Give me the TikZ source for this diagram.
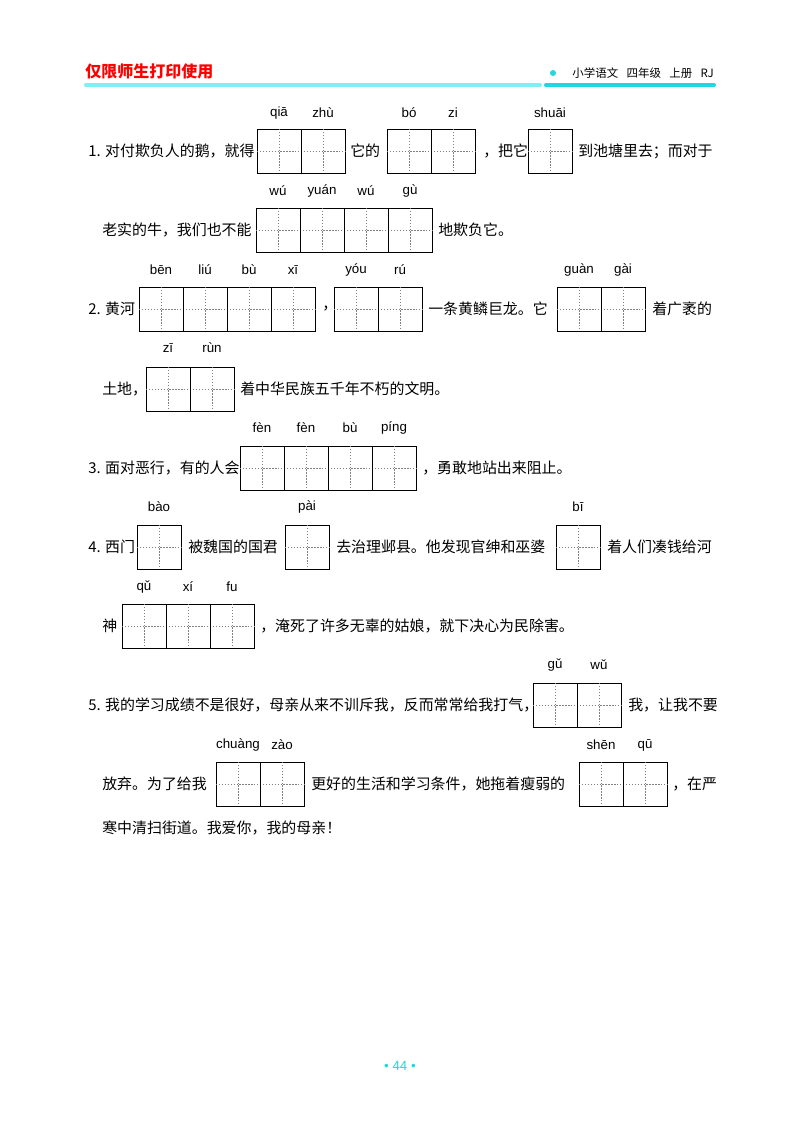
\documentclass[tikz,border=0pt]{standalone}
\usepackage{fontspec}
\setmainfont{Noto Sans CJK SC}
\newfontfamily\latin{Liberation Sans}
\definecolor{hcyan}{HTML}{7FEFF3}
\definecolor{dcyan}{HTML}{22D8E0}
\tikzset{
 txt/.style={anchor=west,inner sep=0pt,font=\fontsize{11.2pt}{12pt}\selectfont},
 py/.style={inner sep=0pt,font=\latin\fontsize{10pt}{11pt}\selectfont},
 gb/.style={draw,line width=0.8pt,anchor=north west,minimum height=33pt,inner sep=0pt},
 gin/.style={line width=0.35pt,dash pattern=on 1pt off 1.2pt,gray}
}
\newcommand\gbox[4]{% name, x, ytop, n
 \node[gb,minimum width=#4*33pt] (#1) at (#2,#3) {};
 \foreach \k in {1,...,#4}{
   \draw[gin] (#2+\k*44-22,#3) -- (#2+\k*44-22,#3+44);
 }
 \draw[gin] (#1.west) -- (#1.east);
 \ifnum#4>1 \foreach \k in {2,...,#4}{\draw[line width=0.5pt] (#2+\k*44-44,#3)--(#2+\k*44-44,#3+44);}\fi
}
\begin{document}
\begin{tikzpicture}[x=0.75pt,y=-0.75pt]
\useasboundingbox (0,0) rectangle (800,1122);
\fill[white] (0,0) rectangle (800,1122);
% header
\node[anchor=west,inner sep=0pt,text=red,font=\bfseries\fontsize{12pt}{13pt}\selectfont] (hd) at (85,71) {仅限师生打印使用};
\draw[hcyan,line width=3pt,line cap=round] (86,85) -- (540,85);
\draw[dcyan,line width=3pt,line cap=round] (546,85) -- (714,85);
\fill[dcyan] (553,73) circle (3);
\node[anchor=east,inner sep=0pt,font=\fontsize{8.6pt}{9pt}\selectfont] (hr) at (714,73) {小学语文\enspace\ 四年级\enspace\ 上册\enspace\ RJ};
% line 1
\node[txt] (t1) at (88,151) {1. 对付欺负人的鹅，就得};
\gbox{b1}{257}{129}{2}
\node[txt] (t2) at (350,151) {它的};
\gbox{b2}{387}{129}{2}
\node[txt] (t3) at (483,151) {，把它};
\gbox{b3}{528}{129}{1}
\node[txt] (t4) at (578,151) {到池塘里去；而对于};
\node[py] (p1) at (279,113) {qiā}; \node[py] (p2) at (323,113) {zhù};
\node[py] (p3) at (409,113) {bó}; \node[py] (p4) at (453,113) {zi};
\node[py] (p5) at (550,113) {shuāi};
% line 2
\node[txt] (t5) at (102,230) {老实的牛，我们也不能};
\gbox{b4}{256}{208}{4}
\node[txt] (t6) at (438,230) {地欺负它。};
\node[py] (p6) at (278,191) {wú}; \node[py] (p7) at (322,191) {yuán};
\node[py] (p8) at (366,191) {wú}; \node[py] (p9) at (410,191) {gù};
% line 3
\node[txt] (t7) at (88,309) {2. 黄河};
\gbox{b5}{139}{287}{4}
\node[txt] (t8) at (322,309) {，};
\gbox{b6}{334}{287}{2}
\node[txt] (t9) at (428,309) {一条黄鳞巨龙。它};
\gbox{b7}{557}{287}{2}
\node[txt] (t10) at (652,309) {着广袤的};
\node[py] (p10) at (161,270) {bēn}; \node[py] (p11) at (205,270) {liú};
\node[py] (p12) at (249,270) {bù}; \node[py] (p13) at (293,270) {xī};
\node[py] (p14) at (356,270) {yóu}; \node[py] (p15) at (400,270) {rú};
\node[py] (p16) at (579,270) {guàn}; \node[py] (p17) at (623,270) {gài};
% line 4
\node[txt] (t11) at (102,389) {土地，};
\gbox{b8}{146}{367}{2}
\node[txt] (t12) at (240,389) {着中华民族五千年不朽的文明。};
\node[py] (p18) at (168,348) {zī}; \node[py] (p19) at (212,348) {rùn};
% line 5
\node[txt] (t13) at (88,468) {3. 面对恶行，有的人会};
\gbox{b9}{240}{446}{4}
\node[txt] (t14) at (422,468) {，勇敢地站出来阻止。};
\node[py] (p20) at (262,428) {fèn}; \node[py] (p21) at (306,428) {fèn};
\node[py] (p22) at (350,428) {bù}; \node[py] (p23) at (394,428) {píng};
% line 6
\node[txt] (t15) at (88,547) {4. 西门};
\gbox{b10}{137}{525}{1}
\node[txt] (t16) at (188,547) {被魏国的国君};
\gbox{b11}{285}{525}{1}
\node[txt] (t17) at (336,547) {去治理邺县。他发现官绅和巫婆};
\gbox{b12}{556}{525}{1}
\node[txt] (t18) at (607,547) {着人们凑钱给河};
\node[py] (p24) at (159,507) {bào}; \node[py] (p25) at (307,507) {pài};
\node[py] (p26) at (578,507) {bī};
% line 7
\node[txt] (t19) at (102,626) {神};
\gbox{b13}{122}{604}{3}
\node[txt] (t20) at (260,626) {，淹死了许多无辜的姑娘，就下决心为民除害。};
\node[py] (p27) at (144,587) {qǔ}; \node[py] (p28) at (188,587) {xí};
\node[py] (p29) at (232,587) {fu};
% line 8
\node[txt] (t21) at (88,705) {5. 我的学习成绩不是很好，母亲从来不训斥我，反而常常给我打气，};
\gbox{b14}{533}{683}{2}
\node[txt] (t22) at (628,705) {我，让我不要};
\node[py] (p30) at (555,665) {gǔ}; \node[py] (p31) at (599,665) {wǔ};
% line 9
\node[txt] (t23) at (102,784) {放弃。为了给我};
\gbox{b15}{216}{762}{2}
\node[txt] (t24) at (311,784) {更好的生活和学习条件，她拖着瘦弱的};
\gbox{b16}{579}{762}{2}
\node[txt] (t25) at (672,784) {，在严};
\node[py] (p32) at (238,745) {chuàng}; \node[py] (p33) at (282,745) {zào};
\node[py] (p34) at (601,745) {shēn}; \node[py] (p35) at (645,745) {qū};
% line 10
\node[txt] (t26) at (102,828) {寒中清扫街道。我爱你，我的母亲！};
% page number
\node[inner sep=0pt,text=dcyan,font=\latin\fontsize{10pt}{11pt}\selectfont] (pg) at (400,1066) {• 44 •};
\end{tikzpicture}
\end{document}
